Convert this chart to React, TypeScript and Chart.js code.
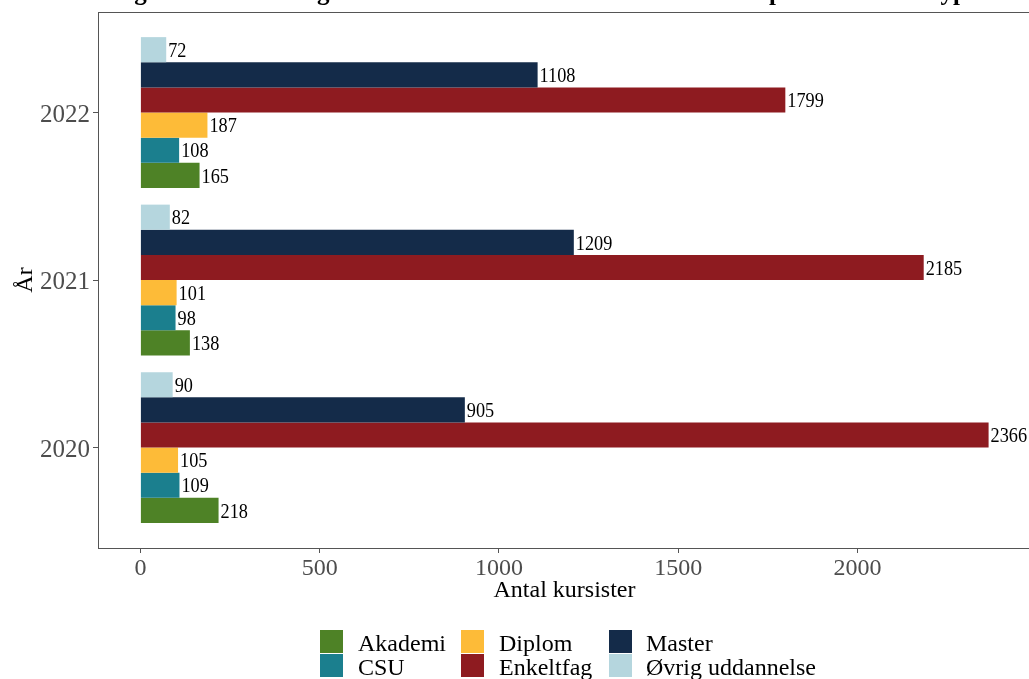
import React, { useEffect, useRef } from "react";
import { Chart, registerables } from "chart.js";

Chart.register(...registerables);

// ---------- data ----------
const years = ["2020", "2021", "2022"];
const yearPositions = [1, 2, 3];
const akademi = [218, 138, 165];
const csu = [109, 98, 108];
const diplom = [105, 101, 187];
const enkeltfag = [2366, 2185, 1799];
const master = [905, 1209, 1108];
const oevrig = [90, 82, 72];
const xTicks = [0, 500, 1000, 1500, 2000];

const seriesNames = ["Akademi", "CSU", "Diplom", "Enkeltfag", "Master", "Øvrig uddannelse"];
const seriesValues = [akademi, csu, diplom, enkeltfag, master, oevrig];
const seriesColors = ["#4E8226", "#1B7F8E", "#FDBB38", "#8E1B20", "#142B49", "#B5D6DE"];

const titleText = "Figur 3.1: Udvikling i antal kursister fra 2020 til 2022 fordelt på uddannelsestype";
const xTitle = "Antal kursister";
const yTitle = "År";

// ---------- layout constants ----------
const T = 40; // part of canvas hidden above viewport
const CW = 1060;
const CH = 679 + T;
const SERIF = '"Liberation Serif", "Times New Roman", serif';

export default function App() {
  const ref = useRef<HTMLCanvasElement | null>(null);

  useEffect(() => {
    const canvas = ref.current;
    if (!canvas) return;

    // datasets drawn top-to-bottom inside each group: Øvrig ... Akademi
    const order = [5, 4, 3, 2, 1, 0];
    const datasets = order.map((s) => ({
      label: seriesNames[s],
      data: seriesValues[s].map((v, i) => ({ x: v, y: yearPositions[i] })),
      backgroundColor: seriesColors[s],
      borderWidth: 0,
      categoryPercentage: 0.9,
      barPercentage: 1.0,
    }));

    const titlePlugin = {
      id: "titleCut",
      afterDraw(chart: any) {
        const ctx = chart.ctx;
        ctx.save();
        ctx.font = `bold 25px ${SERIF}`;
        ctx.fillStyle = "#000";
        ctx.textAlign = "left";
        ctx.textBaseline = "alphabetic";
        ctx.fillText(titleText, 112, T + 0);
        ctx.restore();
      },
    };

    const framePlugin = {
      id: "frame",
      afterDatasetsDraw(chart: any) {
        const { ctx, chartArea } = chart;
        ctx.save();
        ctx.strokeStyle = "#555555";
        ctx.lineWidth = 1;
        ctx.strokeRect(
          chartArea.left + 0.5,
          chartArea.top + 0.5,
          chartArea.right - chartArea.left,
          chartArea.bottom - chartArea.top
        );
        ctx.restore();
      },
    };

    const labelPlugin = {
      id: "barLabels",
      afterDatasetsDraw(chart: any) {
        const ctx = chart.ctx;
        const sx = 0.83;
        ctx.save();
        ctx.font = `22px ${SERIF}`;
        ctx.fillStyle = "#000";
        ctx.textAlign = "left";
        ctx.textBaseline = "middle";
        chart.data.datasets.forEach((ds: any, di: number) => {
          const meta = chart.getDatasetMeta(di);
          meta.data.forEach((el: any, j: number) => {
            const v = ds.data[j].x;
            ctx.save();
            ctx.translate(el.x + 2, el.y + 1.5);
            ctx.scale(sx, 1);
            ctx.fillText(String(v), 0, 0);
            ctx.restore();
          });
        });
        ctx.restore();
      },
    };

    const legendPlugin = {
      id: "legendGrid",
      afterDraw(chart: any) {
        const ctx = chart.ctx;
        const keyX = [320, 461, 609];
        const textX = [358, 499, 646];
        const keyY = [630, 654];
        const baseY = [651, 675];
        ctx.save();
        ctx.font = `24px ${SERIF}`;
        ctx.textAlign = "left";
        ctx.textBaseline = "alphabetic";
        seriesNames.forEach((name, i) => {
          const col = Math.floor(i / 2);
          const row = i % 2;
          ctx.fillStyle = seriesColors[i];
          ctx.fillRect(keyX[col], keyY[row] + T, 23, 23);
          ctx.fillStyle = "#000";
          ctx.fillText(name, textX[col], baseY[row] + T);
        });
        ctx.restore();
      },
    };

    const chart = new Chart(canvas, {
      type: "bar",
      data: { datasets: datasets as any },
      options: {
        indexAxis: "y",
        animation: false,
        responsive: false,
        maintainAspectRatio: false,
        layout: { padding: { top: 12 + T, right: 29, bottom: 71, left: 0 } },
        plugins: {
          legend: { display: false },
          tooltip: { enabled: false },
          title: { display: false },
        },
        scales: {
          x: {
            type: "linear",
            min: -118.3,
            max: 2484.3,
            offset: false,
            afterBuildTicks: (scale: any) => {
              scale.ticks = xTicks.map((v) => ({ value: v }));
            },
            afterFit: (scale: any) => {
              scale.height = 60;
            },
            grid: {
              drawOnChartArea: false,
              drawTicks: true,
              tickLength: 5,
              color: "#555555",
              offset: false,
            },
            border: { display: false },
            ticks: {
              color: "#4D4D4D",
              font: { family: SERIF, size: 24 },
              padding: 1,
              maxRotation: 0,
              autoSkip: false,
              callback: (v: any) => String(v),
            },
            title: {
              display: true,
              text: xTitle,
              color: "#000",
              font: { family: SERIF, size: 24 },
              padding: { top: 0, bottom: 3 },
            },
          },
          y: {
            type: "linear",
            min: 0.4,
            max: 3.6,
            offset: false,
            afterBuildTicks: (scale: any) => {
              scale.ticks = yearPositions.map((v) => ({ value: v }));
            },
            afterFit: (scale: any) => {
              scale.width = 98;
            },
            grid: {
              drawOnChartArea: false,
              drawTicks: true,
              tickLength: 5,
              color: "#555555",
              offset: false,
            },
            border: { display: false },
            ticks: {
              color: "#4D4D4D",
              font: { family: SERIF, size: 25 },
              padding: 3,
              labelOffset: 2.5,
              autoSkip: false,
              callback: (v: any) => {
                const idx = yearPositions.indexOf(Number(v));
                return idx >= 0 ? years[idx] : "";
              },
            },
            title: {
              display: true,
              text: yTitle,
              color: "#000",
              font: { family: SERIF, size: 24 },
              padding: { top: 11, bottom: 0 },
            },
          },
        },
      },
      plugins: [framePlugin, labelPlugin, legendPlugin, titlePlugin],
    });

    return () => chart.destroy();
  }, []);

  return (
    <div
      style={{
        position: "fixed",
        left: 0,
        top: 0,
        width: 1029,
        height: 679,
        overflow: "hidden",
        background: "#fff",
      }}
    >
      <canvas
        ref={ref}
        width={CW}
        height={CH}
        style={{ position: "absolute", left: 0, top: -T, width: CW, height: CH, display: "block" }}
      />
    </div>
  );
}
